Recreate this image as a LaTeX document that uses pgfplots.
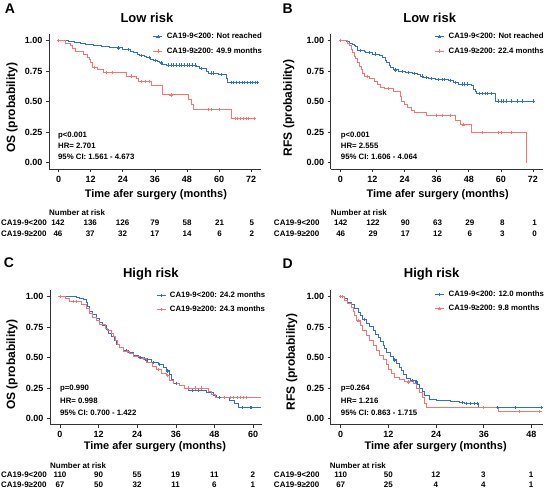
\documentclass[border=0pt]{standalone}
\usepackage{fontspec}
\setmainfont{Liberation Sans}
\usepackage{pgfplots}
\pgfplotsset{compat=1.18}
\definecolor{cblue}{rgb}{0.18,0.43,0.84}
\definecolor{cred}{rgb}{0.97,0.46,0.43}
\newcommand\fs[1]{\fontsize{#1}{#1}\selectfont\bfseries}
\pgfplotsset{
  km/.style={scale only axis, width=212pt, height=134.5pt,
    axis lines*=left, axis line style={-,line width=0.6pt,black!80},
    tick style={black!80,line width=0.6pt}, tick align=outside, major tick length=3pt,
    ymin=-0.05, ymax=1.05, ytick={0,0.25,0.5,0.75,1},
    yticklabels={0.00,0.25,0.50,0.75,1.00},
    ticklabel style={font=\fs{9}}, xticklabel style={yshift=-0.5pt},
    legend style={draw=none, fill=none, font=\fontsize{7.8}{9}\selectfont\bfseries,
      anchor=north west, row sep=3pt, inner sep=0pt, column sep=2pt},
    legend cell align=left,
  },
  kmcurve/.style={draw=#1, line width=0.9pt, const plot, mark=+, mark size=1.6pt,
     mark options={draw=#1, line width=0.6pt, solid}, mark repeat=1000,
     legend image code/.code={\draw[draw=#1,line width=0.9pt] (0pt,0pt) -- (9pt,0pt);
       \draw[draw=#1,line width=0.6pt] (4.5pt,-1.6pt) -- (4.5pt,1.6pt) (2.9pt,0pt) -- (6.1pt,0pt);}},
  kmcens/.style={draw=#1, only marks, mark=+, mark size=1.6pt, mark options={draw=#1, line width=0.6pt, solid}, forget plot},
}
\begin{document}
\begin{tikzpicture}
% ---------------- A ----------------
\begin{axis}[km, at={(49pt,-169pt)}, anchor=south west,
  xmin=-3.6, xmax=75.6, xtick={0,12,24,36,48,60,72}, xticklabels={0,12,24,36,48,60,72},
  legend style={at={(0.49,1.025)}}]
\addplot[kmcurve=cblue] coordinates {(0,1) (3.7,0.99) (6,0.985) (8,0.98) (10,0.97) (13,0.96) (16,0.955) (19,0.945) (21.7,0.94) (24,0.93) (25.4,0.926) (27,0.91) (28,0.90) (29.5,0.89) (30.4,0.877) (32,0.868) (33,0.86) (34.5,0.848) (35.4,0.837) (37,0.826) (37.8,0.817) (39,0.808) (40.3,0.80) (51.5,0.785) (52.5,0.77) (55.2,0.75) (56,0.735) (59.6,0.72) (62.7,0.69) (63.3,0.655) (74.4,0.655)};
\addlegendentry{CA19-9<200: Not reached}
\addplot[kmcurve=cred] coordinates {(0,1) (2.5,0.98) (4.3,0.957) (5,0.935) (6.2,0.91) (9.3,0.89) (10.8,0.866) (11.5,0.845) (12,0.82) (12.8,0.78) (14.5,0.76) (16.7,0.74) (25.4,0.71) (29,0.69) (29.8,0.665) (34.7,0.63) (38.7,0.555) (48.4,0.52) (49.6,0.475) (50.5,0.435) (64.5,0.365) (73.2,0.365)};
\addlegendentry{CA19-9≥200: 49.9 months}
\addplot[kmcens=cblue] coordinates {(22.5,0.94) (26,0.926) (31,0.877) (33.8,0.86) (36,0.837) (38.4,0.817) (41,0.80) (42,0.80) (43,0.80) (44,0.80) (45,0.80) (46,0.80) (47,0.80) (48,0.80) (49,0.80) (50,0.80) (51,0.80) (53.5,0.77) (57,0.735) (58,0.735) (61,0.72) (64.5,0.655) (65.5,0.655) (66.5,0.655) (67.5,0.655) (68.5,0.655) (69.5,0.655) (70.5,0.655) (71.5,0.655) (72.5,0.655) (73.5,0.655) (74.4,0.655)};
\addplot[kmcens=cred] coordinates {(13.5,0.78) (18,0.74) (20,0.74) (27,0.71) (31,0.665) (32.5,0.665) (34,0.665) (42,0.555) (56,0.435) (57,0.435) (60,0.435) (66,0.365) (67,0.365) (68,0.365) (69,0.365) (70,0.365) (71,0.365) (73.2,0.365)};
\end{axis}
% ---------------- B ----------------
\begin{axis}[km, at={(331pt,-169pt)}, anchor=south west,
  xmin=-3.6, xmax=75.6, xtick={0,12,24,36,48,60,72}, xticklabels={0,12,24,36,48,60,72},
  legend style={at={(0.49,1.025)}}]
\addplot[kmcurve=cblue] coordinates {(0,1) (2.1,0.99) (3.5,0.98) (4.6,0.97) (5.2,0.96) (5.8,0.95) (6.4,0.92) (8.9,0.91) (9.5,0.90) (12,0.89) (14.5,0.875) (15.7,0.86) (16.7,0.84) (17.4,0.82) (18.2,0.80) (18.9,0.78) (19.7,0.76) (21.9,0.75) (24.4,0.74) (26.8,0.73) (28.7,0.72) (29.9,0.71) (31.2,0.70) (33,0.69) (35.5,0.68) (40.5,0.675) (42.3,0.66) (44.2,0.645) (49.1,0.63) (49.7,0.60) (50.4,0.58) (51,0.565) (57.8,0.505) (72,0.505)};
\addlegendentry{CA19-9<200: Not reached}
\addplot[kmcurve=cred] coordinates {(0,1) (2.7,0.98) (3.3,0.96) (4,0.93) (4.6,0.90) (5.2,0.87) (5.8,0.85) (6.4,0.82) (7,0.79) (7.7,0.76) (8.3,0.73) (8.9,0.705) (11,0.69) (12.6,0.665) (13.9,0.645) (15.1,0.62) (16.3,0.61) (20,0.58) (22.3,0.54) (22.9,0.50) (23.8,0.475) (25,0.455) (26.6,0.43) (27.8,0.415) (32,0.39) (42.9,0.35) (44.8,0.31) (48.9,0.25) (69.5,0)};
\addlegendentry{CA19-9≥200: 22.4 months}
\addplot[kmcens=cblue] coordinates {(7.5,0.92) (11,0.90) (13,0.89) (20.5,0.76) (23,0.75) (25.5,0.74) (27.5,0.73) (30.5,0.71) (32,0.70) (34,0.69) (36.5,0.68) (38,0.68) (39,0.68) (41,0.675) (43,0.66) (45.5,0.645) (46.5,0.645) (47.5,0.645) (52,0.565) (53,0.565) (54,0.565) (55,0.565) (56.5,0.565) (59,0.505) (60,0.505) (61,0.505) (62,0.505) (64,0.505) (66,0.505) (68,0.505) (72,0.505)};
\addplot[kmcens=cred] coordinates {(10,0.705) (18,0.61) (36,0.39) (38,0.39) (41,0.39) (46,0.31) (53,0.25) (59,0.25) (60,0.25) (64,0.25)};
\end{axis}
% ---------------- C ----------------
\begin{axis}[km, at={(50pt,-425pt)}, anchor=south west,
  xmin=-3.1, xmax=62.7, xtick={0,12,24,36,48,60}, xticklabels={0,12,24,36,48,60},
  legend style={at={(0.5,1.005)}}]
\addplot[kmcurve=cblue] coordinates {(0,1) (5.2,0.99) (6.2,0.985) (7.2,0.975) (8.1,0.95) (8.7,0.92) (9.3,0.88) (10.1,0.85) (11.2,0.82) (12.2,0.79) (13.2,0.76) (14.3,0.73) (15,0.70) (16,0.67) (16.8,0.64) (17.6,0.61) (18.6,0.58) (19.7,0.56) (21.2,0.54) (22.8,0.52) (24.3,0.50) (26.4,0.48) (28.4,0.46) (30.5,0.44) (32,0.42) (33.1,0.39) (34.1,0.36) (34.6,0.32) (35.2,0.29) (37.2,0.275) (38.8,0.25) (39.8,0.23) (45.5,0.21) (47.6,0.19) (48.6,0.175) (52.8,0.15) (54.3,0.12) (55.3,0.09) (62.5,0.09)};
\addlegendentry{CA19-9<200: 24.2 months}
\addplot[kmcurve=cred] coordinates {(0,1) (1.6,0.98) (3.1,0.96) (6.7,0.93) (8.3,0.90) (9.1,0.86) (10.1,0.83) (11.2,0.80) (12.4,0.77) (14,0.74) (14.8,0.72) (16,0.70) (16.5,0.67) (17.1,0.64) (17.8,0.61) (18.5,0.58) (19.7,0.55) (21.5,0.53) (22.8,0.51) (24.8,0.49) (26.9,0.46) (28.8,0.43) (30,0.40) (31.6,0.37) (33.1,0.35) (34.1,0.31) (35.2,0.285) (37,0.27) (38.8,0.25) (46,0.22) (47.2,0.20) (48.4,0.175) (62.5,0.175)};
\addlegendentry{CA19-9≥200: 24.3 months}
\addplot[kmcens=cblue] coordinates {(20.5,0.56) (25,0.50) (27,0.48) (29,0.46) (31,0.44) (33.5,0.39) (36,0.29) (41,0.23) (43,0.23) (49.5,0.175) (56.5,0.09) (59,0.09) (59.5,0.09)};
\addplot[kmcens=cred] coordinates {(4,0.96) (5,0.96) (21,0.55) (26,0.49) (30.5,0.40) (33.5,0.35) (40,0.25) (42,0.25) (44,0.25) (51,0.175) (53,0.175) (54,0.175) (55,0.175) (56,0.175) (57,0.175) (58,0.175)};
\end{axis}
% ---------------- D ----------------
\begin{axis}[km, at={(331pt,-425pt)}, anchor=south west,
  xmin=-2.5, xmax=50.8, xtick={0,12,24,36,48}, xticklabels={0,12,24,36,48},
  legend style={at={(0.49,1.01)}}]
\addplot[kmcurve=cblue] coordinates {(0,1) (1,0.98) (1.8,0.95) (2.7,0.93) (3.5,0.90) (4.4,0.87) (5,0.84) (5.6,0.81) (6.5,0.78) (7.3,0.75) (8.2,0.72) (8.8,0.69) (9.4,0.66) (10,0.63) (10.7,0.60) (11.1,0.57) (11.5,0.54) (12.4,0.51) (13.2,0.48) (14,0.45) (14.7,0.42) (15.3,0.39) (15.9,0.36) (16.6,0.33) (17.5,0.31) (18.7,0.30) (19.2,0.28) (19.9,0.25) (20.5,0.22) (21.2,0.19) (22.4,0.16) (24.1,0.15) (27.5,0.14) (30,0.13) (31.2,0.125) (34.6,0.09) (50.6,0.09)};
\addlegendentry{CA19-9<200: 12.0 months}
\addplot[kmcurve=cred] coordinates {(0,1) (1,0.97) (1.8,0.94) (2.6,0.91) (3.1,0.88) (3.5,0.84) (3.9,0.80) (5,0.76) (5.6,0.72) (6.4,0.68) (7.3,0.64) (8.2,0.60) (9,0.56) (9.8,0.52) (10.7,0.48) (11.5,0.44) (12.1,0.40) (12.8,0.37) (13.6,0.34) (14.9,0.32) (16.1,0.30) (18.2,0.29) (19.1,0.25) (19.9,0.21) (20.6,0.17) (21,0.12) (21.6,0.09) (39.7,0.06) (50.6,0.06)};
\addlegendentry{CA19-9≥200: 9.8 months}
\addplot[kmcens=cblue] coordinates {(6,0.81) (13.5,0.48) (18,0.31) (19,0.30) (30.5,0.13) (31.5,0.125) (32.5,0.125) (33.5,0.125) (34.3,0.125) (39.5,0.09) (44,0.09) (50.5,0.09)};
\addplot[kmcens=cred] coordinates {(0.5,1) (4.5,0.80) (17,0.30) (36,0.09) (45,0.06) (50,0.06)};
\end{axis}
% ---------------- text ----------------
\begin{scope}[x=1pt,y=-1pt]
\path[use as bounding box] (0,0) rectangle (546,494);
\node[font=\fs{14}] at (10,9) {A};
\node[font=\fs{14}] at (288,9) {B};
\node[font=\fs{14}] at (9,263) {C};
\node[font=\fs{14}] at (288,264) {D};
\node[font=\fs{13}] at (147,18) {Low risk};
\node[font=\fs{13}] at (430,18) {Low risk};
\node[font=\fs{13}] at (151,274) {High risk};
\node[font=\fs{13}] at (432,274) {High risk};
\node[font=\fs{12},rotate=90] at (12,108) {OS (probability)};
\node[font=\fs{12},rotate=90] at (289,108) {RFS (probability)};
\node[font=\fs{12},rotate=90] at (12,365) {OS (probability)};
\node[font=\fs{12},rotate=90] at (292,362) {RFS (probability)};
\node[font=\fs{11}] at (156,195) {Time afer surgery (months)};
\node[font=\fs{11}] at (438,195) {Time afer surgery (months)};
\node[font=\fs{11}] at (155,447) {Time afer surgery (months)};
\node[font=\fs{11}] at (436,447) {Time afer surgery (months)};
% annotations
\begin{scope}[every node/.style={font=\fs{7.8},anchor=mid west,inner sep=0pt}]
\node at (58,135) {p<0.001}; \node at (58,146) {HR= 2.701}; \node at (58,156.5) {95\% CI: 1.561 - 4.673};
\node at (341,135) {p<0.001}; \node at (341,146) {HR= 2.555}; \node at (341,157) {95\% CI: 1.606 - 4.064};
\node at (60,388.5) {p=0.990}; \node at (60,401.5) {HR= 0.998}; \node at (60,413.5) {95\% CI: 0.700 - 1.422};
\node at (341,388) {p=0.264}; \node at (341,401) {HR= 1.216}; \node at (341,413.5) {95\% CI: 0.863 - 1.715};
\end{scope}
% risk tables
\begin{scope}[every node/.style={font=\fs{8},inner sep=0pt}]
\node[anchor=mid west] at (49,213) {Number at risk};
\node[anchor=mid west] at (1,223) {CA19-9<200};
\node[anchor=mid west] at (1,234) {CA19-9≥200};
\foreach \x/\a/\b in {58/142/46, 90.3/136/37, 122.7/126/32, 155/79/17, 187.3/58/14, 219.7/21/6, 252/5/2}
  {\node[anchor=mid] at (\x,223) {\a}; \node[anchor=mid] at (\x,234) {\b};}
\node[anchor=mid west] at (331,213) {Number at risk};
\node[anchor=mid west] at (274,223) {CA19-9<200};
\node[anchor=mid west] at (274,234) {CA19-9≥200};
\foreach \x/\a/\b in {341/142/46, 373.3/122/29, 405.7/90/17, 438/63/12, 470.3/29/6, 502.7/8/3, 535/1/0}
  {\node[anchor=mid] at (\x,223) {\a}; \node[anchor=mid] at (\x,234) {\b};}
\node[anchor=mid west] at (50,466) {Number at risk};
\node[anchor=mid west] at (1,475.5) {CA19-9<200};
\node[anchor=mid west] at (1,485.5) {CA19-9≥200};
\foreach \x/\a/\b in {60/110/67, 98.6/90/50, 137.2/55/32, 175.8/19/11, 214.4/11/6, 253/2/1}
  {\node[anchor=mid] at (\x,475.5) {\a}; \node[anchor=mid] at (\x,485.5) {\b};}
\node[anchor=mid west] at (330,466) {Number at risk};
\node[anchor=mid west] at (274,475.5) {CA19-9<200};
\node[anchor=mid west] at (274,485.5) {CA19-9≥200};
\foreach \x/\a/\b in {341/110/67, 388.6/50/25, 436.2/12/4, 483.8/3/4, 531.4/1/1}
  {\node[anchor=mid] at (\x,475.5) {\a}; \node[anchor=mid] at (\x,485.5) {\b};}
\end{scope}
\end{scope}
\end{tikzpicture}
\end{document}
